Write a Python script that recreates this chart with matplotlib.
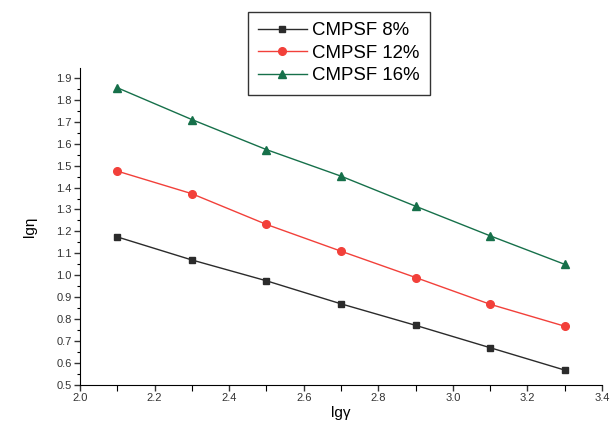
import matplotlib.pyplot as plt
from matplotlib.ticker import MultipleLocator

plt.rcParams['font.family'] = ['Liberation Sans', 'DejaVu Sans']

lg_gamma = [2.1, 2.3, 2.5, 2.7, 2.9, 3.1, 3.3]
eta_8 = [1.175, 1.07, 0.975, 0.87, 0.772, 0.67, 0.568]
eta_12 = [1.475, 1.372, 1.232, 1.11, 0.99, 0.868, 0.768]
eta_16 = [1.855, 1.71, 1.573, 1.452, 1.315, 1.18, 1.05]
labels = ["CMPSF 8%", "CMPSF 12%", "CMPSF 16%"]

fig = plt.figure(figsize=(6.14, 4.4), dpi=100)
ax = fig.add_axes([80/614, 1-385/440, 522/614, (385-68)/440])

ax.plot(lg_gamma, eta_8, '-s', color='#2b2b2b', lw=1, ms=5, label=labels[0])
ax.plot(lg_gamma, eta_12, '-o', color='#f2403a', lw=1, ms=5.5, label=labels[1])
ax.plot(lg_gamma, eta_16, '-^', color='#16704a', lw=1, ms=6, label=labels[2])

ax.set_xlim(2.0, 3.4)
ax.set_ylim(0.5, 1.945)
ax.xaxis.set_major_locator(MultipleLocator(0.2))
ax.xaxis.set_minor_locator(MultipleLocator(0.1))
ax.yaxis.set_minor_locator(MultipleLocator(0.05))
ax.set_yticks([0.5 + 0.1*i for i in range(15)])
ax.set_yticklabels(["%.1f" % (0.5 + 0.1*i) for i in range(15)])
ax.spines['top'].set_visible(False)
ax.spines['right'].set_visible(False)
ax.tick_params(which='major', length=4, width=1, labelsize=8, colors='#333333', pad=2)
ax.tick_params(which='minor', length=2.5, width=0.8)
ax.tick_params(axis='x', which='minor', length=4)
ax.set_xlabel("lgγ", fontsize=11, labelpad=2)
ax.set_ylabel("lgη", fontsize=11, labelpad=14)

ax.legend(loc='upper left', bbox_to_anchor=(248/614, 1-12/440), bbox_transform=fig.transFigure,
          fancybox=False, edgecolor='#333333', framealpha=1, fontsize=13.4,
          borderaxespad=0, handlelength=2.6, borderpad=0.55, labelspacing=0.3, handletextpad=0.3)

fig.savefig("out.png", dpi=100)
